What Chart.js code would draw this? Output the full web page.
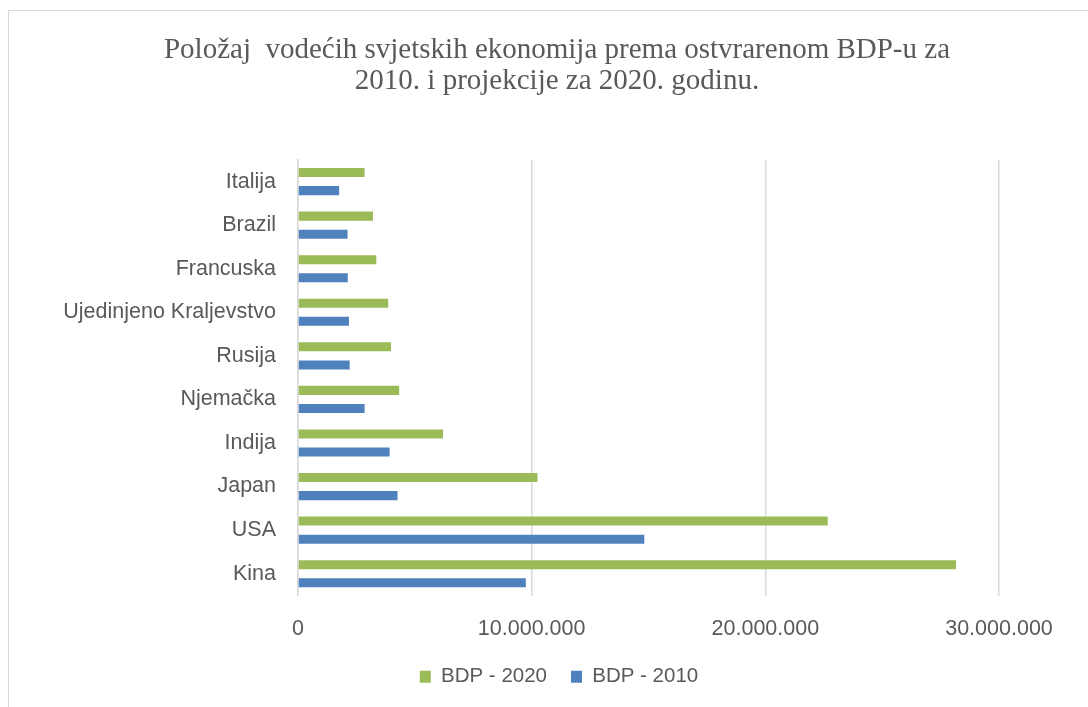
<!DOCTYPE html>
<html lang="hr">
<head>
    <meta charset="UTF-8">
    <title>BDP 2010 / 2020</title>
    <style>
        * { margin: 0; padding: 0; box-sizing: border-box; }
        body { background: #fff; width: 1088px; height: 707px; overflow: hidden; position: relative; }
        .frame {
            position: absolute; left: 8px; top: 10px; right: -5px; bottom: -5px;
            border-left: 1.5px solid #d9d9d9; border-top: 1.5px solid #d9d9d9;
            pointer-events: none;
        }
        .wrap { position: absolute; left: 0; top: 0; width: 1088px; height: 707px; }
    </style>
    <script src="https://cdn.jsdelivr.net/npm/chart.js"></script>
</head>
<body>
    <div class="wrap"><canvas id="chart"></canvas></div>
    <div class="frame"></div>

    <script>
        // podaci (redoslijed kao u tablici, odozdo prema gore)
        const countries = ['Kina', 'USA', 'Japan', 'Indija', 'Njemačka', 'Rusija',
            'Ujedinjeno Kraljevstvo', 'Francuska', 'Brazil', 'Italija'];
        const bdp2020 = [28160000, 22670000, 10250000, 6210000, 4330000, 3980000,
            3860000, 3350000, 3210000, 2850000];
        const bdp2010 = [9750000, 14820000, 4260000, 3920000, 2850000, 2210000,
            2180000, 2130000, 2120000, 1760000];
        const xTicks = [0, 10000000, 20000000, 30000000];
        const titleLines = ['Položaj  vodećih svjetskih ekonomija prema ostvrarenom BDP-u za',
            '2010. i projekcije za 2020. godinu.'];

        const textColor = '#595959';
        const gridColor = '#d9d9d9';
        const labelFont = { family: '"Liberation Sans", Arial, sans-serif', size: 21.5 };

        function fmt(v) {
            return String(v).replace(/\B(?=(\d{3})+(?!\d))/g, '.');
        }

        // naslov i legenda centrirani kao u Excelu (malo udesno od sredine)
        const shiftBlocks = {
            id: 'shiftBlocks',
            afterLayout(chart) {
                if (chart.titleBlock) chart.titleBlock.left = 115;
                if (chart.legend) chart.legend.left = 119;
            }
        };

        new Chart(document.getElementById('chart'), {
            type: 'bar',
            data: {
                labels: countries,
                datasets: [
                    {
                        label: 'BDP - 2020',
                        data: bdp2020,
                        backgroundColor: '#9bbb59',
                        borderWidth: 0,
                        categoryPercentage: 0.83,
                        barPercentage: 0.5
                    },
                    {
                        label: 'BDP - 2010',
                        data: bdp2010,
                        backgroundColor: '#4f81bd',
                        borderWidth: 0,
                        categoryPercentage: 0.83,
                        barPercentage: 0.5
                    }
                ]
            },
            options: {
                indexAxis: 'y',
                responsive: true,
                maintainAspectRatio: false,
                animation: false,
                layout: { padding: { left: 0, right: 89, top: 0, bottom: 10 } },
                scales: {
                    x: {
                        min: 0,
                        max: 30000000,
                        afterBuildTicks: (scale) => {
                            scale.ticks = xTicks.map(v => ({ value: v }));
                        },
                        afterFit: (scale) => { scale.height = 47; },
                        grid: { color: gridColor, lineWidth: 1.5, drawTicks: false },
                        border: { display: false },
                        ticks: {
                            color: textColor,
                            font: labelFont,
                            padding: 21,
                            maxRotation: 0,
                            callback: (v) => fmt(v)
                        }
                    },
                    y: {
                        reverse: true,
                        afterFit: (scale) => { scale.width = 298; },
                        grid: { display: false },
                        border: { display: true, color: gridColor, width: 1.5 },
                        ticks: { color: textColor, font: labelFont, padding: 14 }
                    }
                },
                plugins: {
                    title: {
                        display: true,
                        text: titleLines,
                        color: textColor,
                        font: { family: '"Liberation Serif", "Times New Roman", serif', size: 29, weight: 'normal', lineHeight: 1.1 },
                        padding: { top: 34, bottom: 62 }
                    },
                    legend: {
                        position: 'bottom',
                        labels: {
                            color: textColor,
                            font: { family: labelFont.family, size: 20.5 },
                            boxWidth: 11,
                            boxHeight: 12,
                            padding: 24
                        }
                    },
                    tooltip: { enabled: false }
                }
            },
            plugins: [shiftBlocks]
        });
    </script>
</body>
</html>
